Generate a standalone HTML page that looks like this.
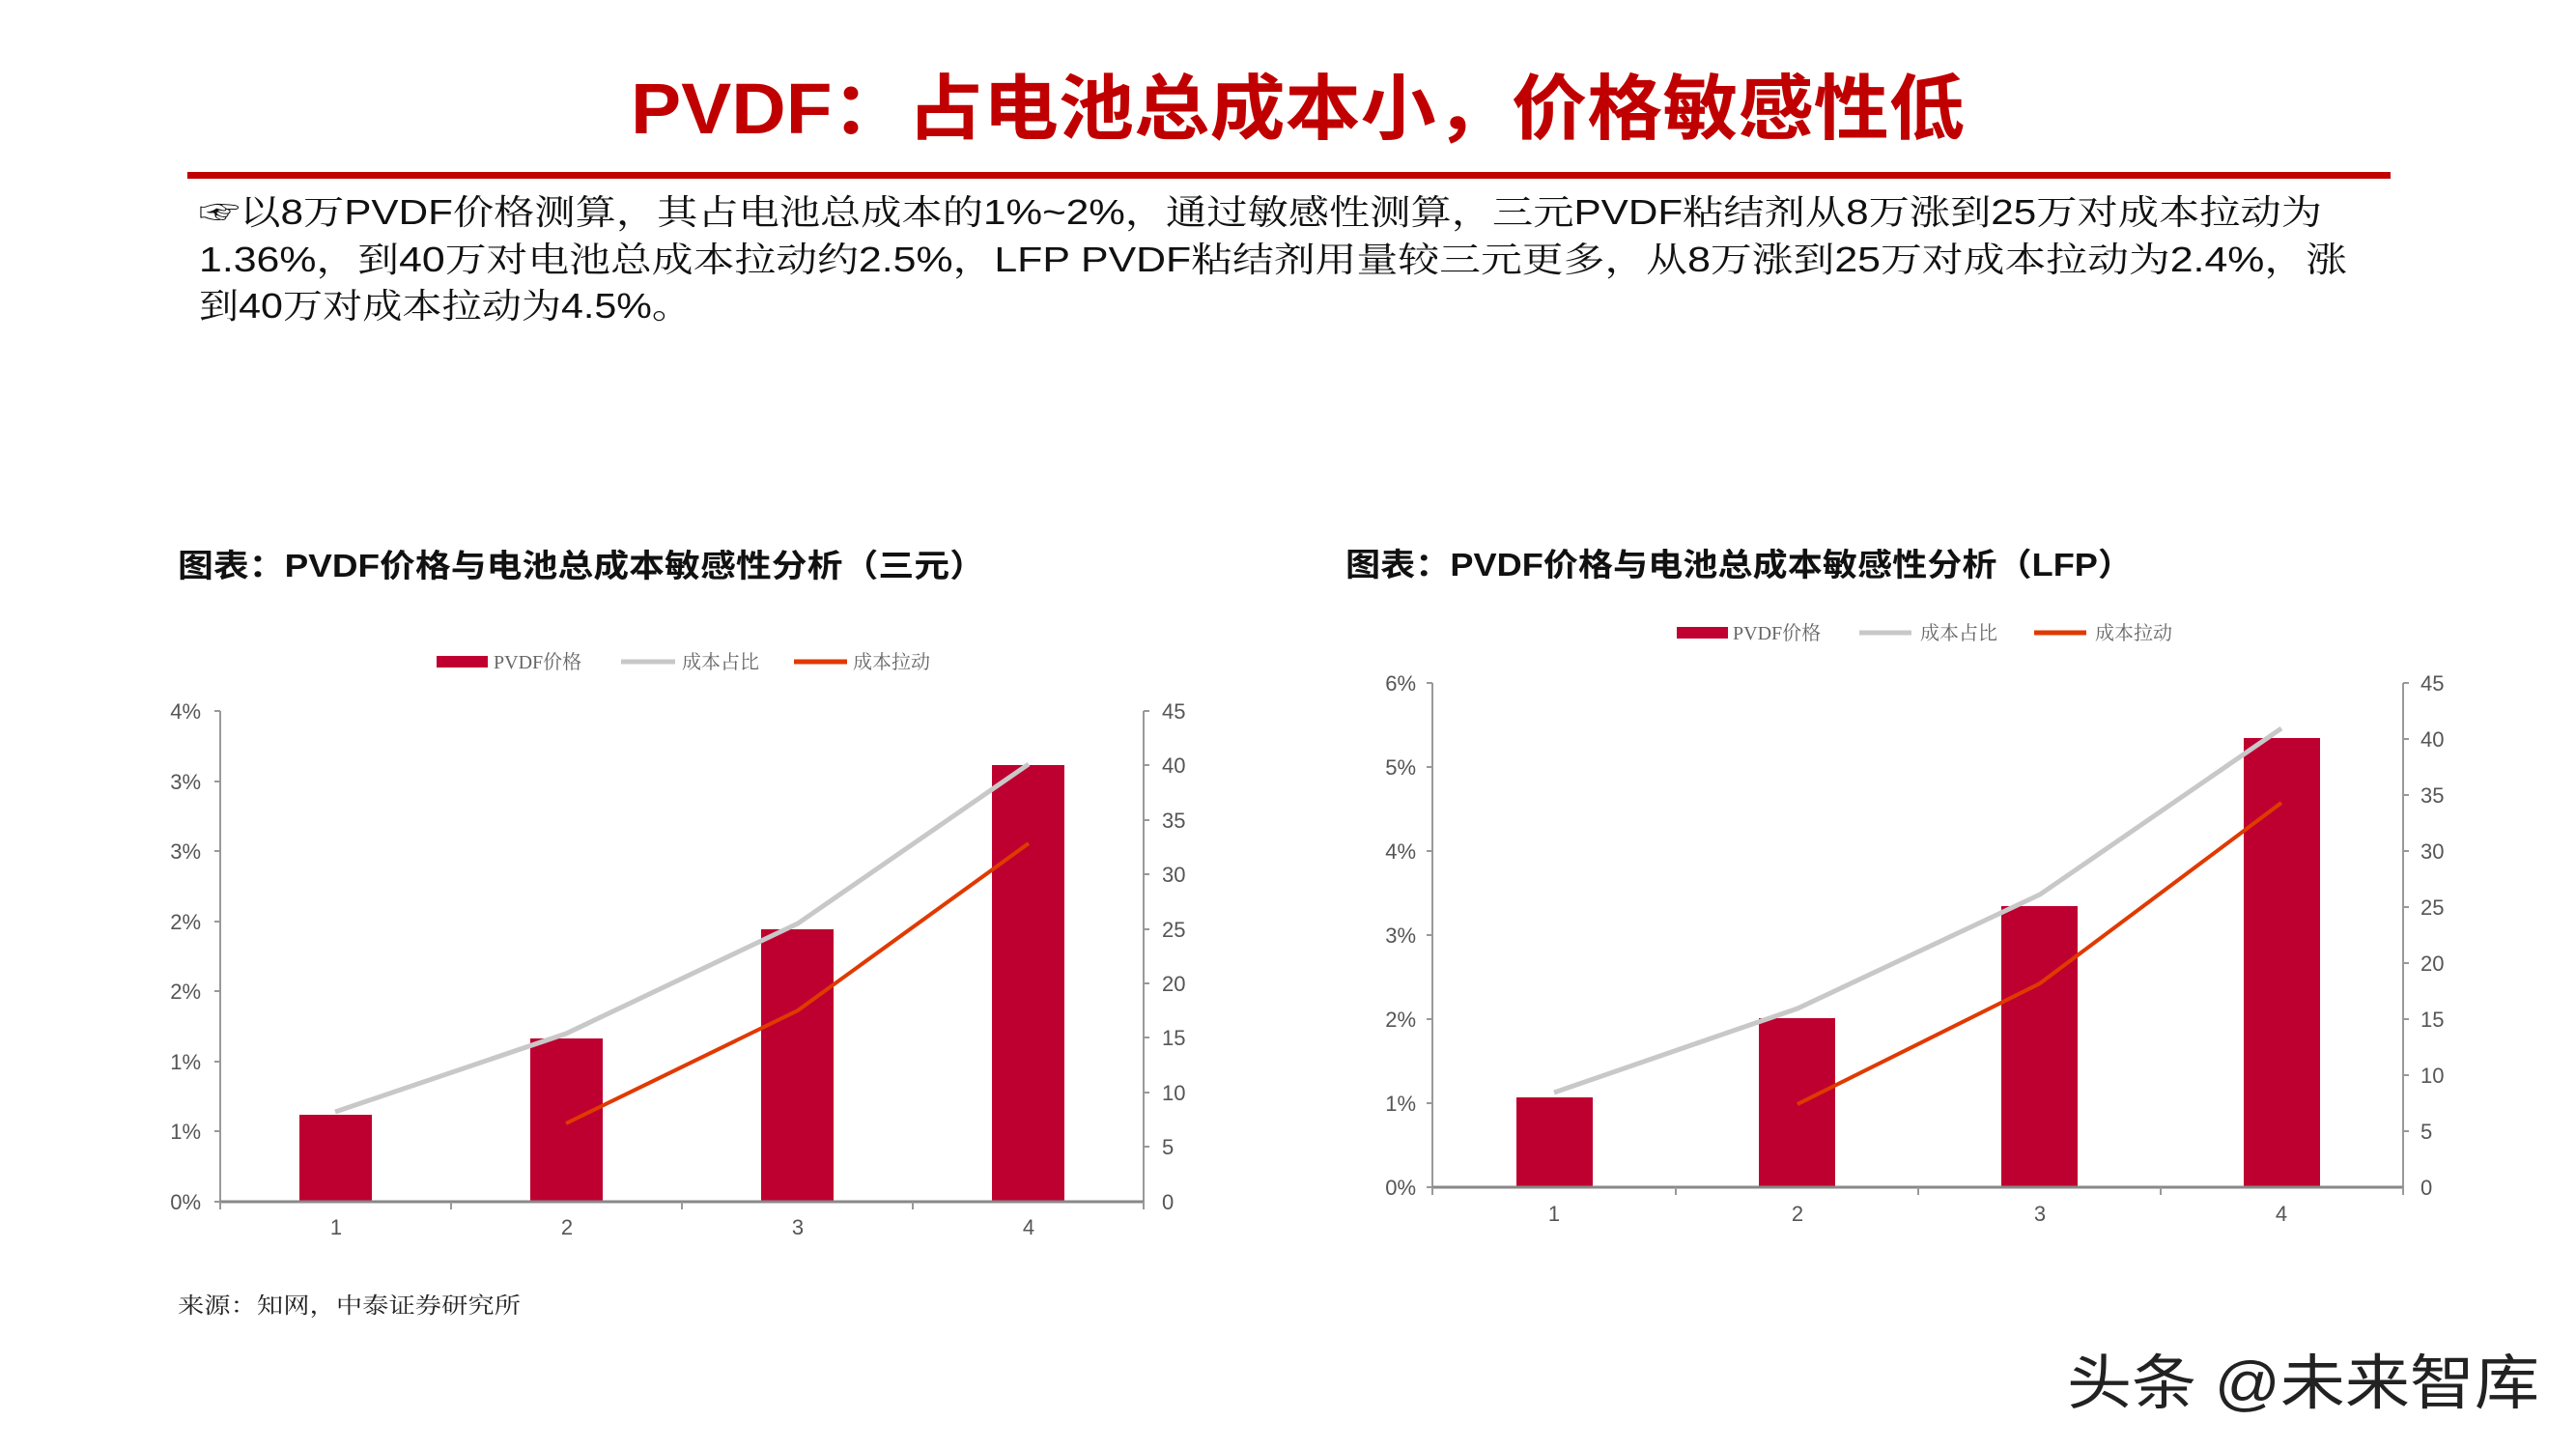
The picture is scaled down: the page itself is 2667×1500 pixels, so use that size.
<!DOCTYPE html>
<html><head><meta charset="utf-8"><style>
html,body{margin:0;padding:0;background:#fff;}
svg{display:block;}
</style></head><body>
<svg width="2667" height="1500" viewBox="0 0 2667 1500" xmlns="http://www.w3.org/2000/svg">
<rect width="2667" height="1500" fill="#fff"/>
<text x="653" y="138" textLength="1381" lengthAdjust="spacingAndGlyphs" font-family="Liberation Sans, Noto Sans CJK SC, sans-serif" font-weight="bold" font-size="74" fill="#c00000">PVDF：占电池总成本小，价格敏感性低</text>
<rect x="194" y="178" width="2281" height="7" fill="#c00000"/>
<g font-family="Liberation Sans, Noto Serif CJK SC, serif" font-size="36" fill="#111">
<text x="206" y="232" textLength="2198" lengthAdjust="spacingAndGlyphs">☞以8万PVDF价格测算，其占电池总成本的1%~2%，通过敏感性测算，三元PVDF粘结剂从8万涨到25万对成本拉动为</text>
<text x="206" y="281" textLength="2224" lengthAdjust="spacingAndGlyphs">1.36%，到40万对电池总成本拉动约2.5%，LFP PVDF粘结剂用量较三元更多，从8万涨到25万对成本拉动为2.4%，涨</text>
<text x="206" y="329" textLength="510" lengthAdjust="spacingAndGlyphs">到40万对成本拉动为4.5%。</text>
</g>
<g font-family="Liberation Sans, Noto Sans CJK SC, sans-serif" font-weight="bold" font-size="33" fill="#111">
<text x="184" y="597" textLength="836" lengthAdjust="spacingAndGlyphs">图表：PVDF价格与电池总成本敏感性分析（三元）</text>
<text x="1393" y="596" textLength="815" lengthAdjust="spacingAndGlyphs">图表：PVDF价格与电池总成本敏感性分析（LFP）</text>
</g>

<!-- Left chart -->
<g font-family="Liberation Serif, Noto Serif CJK SC, serif" font-size="20" fill="#666">
<rect x="452" y="679" width="53" height="12" fill="#c00030"/><text x="511" y="692">PVDF价格</text>
<line x1="643" y1="685" x2="699" y2="685" stroke="#c8c8c8" stroke-width="5"/><text x="706" y="692">成本占比</text>
<line x1="822" y1="685" x2="877" y2="685" stroke="#e03a00" stroke-width="5"/><text x="883" y="692">成本拉动</text>
</g>
<g fill="#bd0030">
<rect x="310" y="1154" width="75" height="90"/>
<rect x="549" y="1075" width="75" height="169"/>
<rect x="788" y="962" width="75" height="282"/>
<rect x="1027" y="792" width="75" height="452"/>
</g>
<polyline points="347,1151 586,1070 826,956 1065,791" fill="none" stroke="#c8c8c8" stroke-width="5"/>
<polyline points="586,1163 826,1046 1065,873" fill="none" stroke="#e03a00" stroke-width="4"/>
<g stroke="#999" stroke-width="2" fill="none">
<line x1="228" y1="736" x2="228" y2="1244"/><line x1="1184" y1="736" x2="1184" y2="1244"/>
<line x1="228" y1="1244" x2="1184" y2="1244" stroke="#888" stroke-width="3"/>
<path d="M222 736H228M222 809H228M222 881H228M222 954H228M222 1026H228M222 1099H228M222 1171H228M222 1244H228"/>
<path d="M1184 736H1190M1184 792H1190M1184 849H1190M1184 905H1190M1184 962H1190M1184 1018H1190M1184 1074H1190M1184 1131H1190M1184 1187H1190"/>
<path d="M228 1244V1252M467 1244V1252M706 1244V1252M945 1244V1252M1184 1244V1252"/>
</g>
<g font-family="Liberation Sans, sans-serif" font-size="22" fill="#555">
<g text-anchor="end"><text x="208" y="744">4%</text><text x="208" y="817">3%</text><text x="208" y="889">3%</text><text x="208" y="962">2%</text><text x="208" y="1034">2%</text><text x="208" y="1107">1%</text><text x="208" y="1179">1%</text><text x="208" y="1252">0%</text></g>
<g><text x="1203" y="744">45</text><text x="1203" y="800">40</text><text x="1203" y="857">35</text><text x="1203" y="913">30</text><text x="1203" y="970">25</text><text x="1203" y="1026">20</text><text x="1203" y="1082">15</text><text x="1203" y="1139">10</text><text x="1203" y="1195">5</text><text x="1203" y="1252">0</text></g>
<g text-anchor="middle"><text x="348" y="1278">1</text><text x="587" y="1278">2</text><text x="826" y="1278">3</text><text x="1065" y="1278">4</text></g>
</g>

<!-- Right chart -->
<g font-family="Liberation Serif, Noto Serif CJK SC, serif" font-size="20" fill="#666">
<rect x="1736" y="649" width="53" height="12" fill="#c00030"/><text x="1794" y="662">PVDF价格</text>
<line x1="1925" y1="655" x2="1979" y2="655" stroke="#c8c8c8" stroke-width="5"/><text x="1988" y="662">成本占比</text>
<line x1="2106" y1="655" x2="2160" y2="655" stroke="#e03a00" stroke-width="5"/><text x="2169" y="662">成本拉动</text>
</g>
<g fill="#bd0030">
<rect x="1570" y="1136" width="79" height="93"/>
<rect x="1821" y="1054" width="79" height="175"/>
<rect x="2072" y="938" width="79" height="291"/>
<rect x="2323" y="764" width="79" height="465"/>
</g>
<polyline points="1609,1131 1861,1044 2112,926 2362,754" fill="none" stroke="#c8c8c8" stroke-width="5"/>
<polyline points="1861,1143 2112,1018 2362,831" fill="none" stroke="#e03a00" stroke-width="4"/>
<g stroke="#999" stroke-width="2" fill="none">
<line x1="1483" y1="707" x2="1483" y2="1229"/><line x1="2488" y1="707" x2="2488" y2="1229"/>
<line x1="1483" y1="1229" x2="2488" y2="1229" stroke="#888" stroke-width="3"/>
<path d="M1477 707H1483M1477 794H1483M1477 881H1483M1477 968H1483M1477 1055H1483M1477 1142H1483M1477 1229H1483"/>
<path d="M2488 707H2494M2488 765H2494M2488 823H2494M2488 881H2494M2488 939H2494M2488 997H2494M2488 1055H2494M2488 1113H2494M2488 1171H2494"/>
<path d="M1483 1229V1237M1735 1229V1237M1986 1229V1237M2237 1229V1237M2488 1229V1237"/>
</g>
<g font-family="Liberation Sans, sans-serif" font-size="22" fill="#555">
<g text-anchor="end"><text x="1466" y="715">6%</text><text x="1466" y="802">5%</text><text x="1466" y="889">4%</text><text x="1466" y="976">3%</text><text x="1466" y="1063">2%</text><text x="1466" y="1150">1%</text><text x="1466" y="1237">0%</text></g>
<g><text x="2506" y="715">45</text><text x="2506" y="773">40</text><text x="2506" y="831">35</text><text x="2506" y="889">30</text><text x="2506" y="947">25</text><text x="2506" y="1005">20</text><text x="2506" y="1063">15</text><text x="2506" y="1121">10</text><text x="2506" y="1179">5</text><text x="2506" y="1237">0</text></g>
<g text-anchor="middle"><text x="1609" y="1264">1</text><text x="1861" y="1264">2</text><text x="2112" y="1264">3</text><text x="2362" y="1264">4</text></g>
</g>

<text x="184" y="1359" textLength="355" lengthAdjust="spacingAndGlyphs" font-family="Liberation Serif, Noto Serif CJK SC, serif" font-size="23" fill="#222">来源：知网，中泰证券研究所</text>
<text x="2140" y="1453" textLength="489" lengthAdjust="spacingAndGlyphs" font-family="Liberation Sans, Noto Sans CJK SC, sans-serif" font-size="62" fill="#222">头条 @未来智库</text>
</svg>
</body></html>
